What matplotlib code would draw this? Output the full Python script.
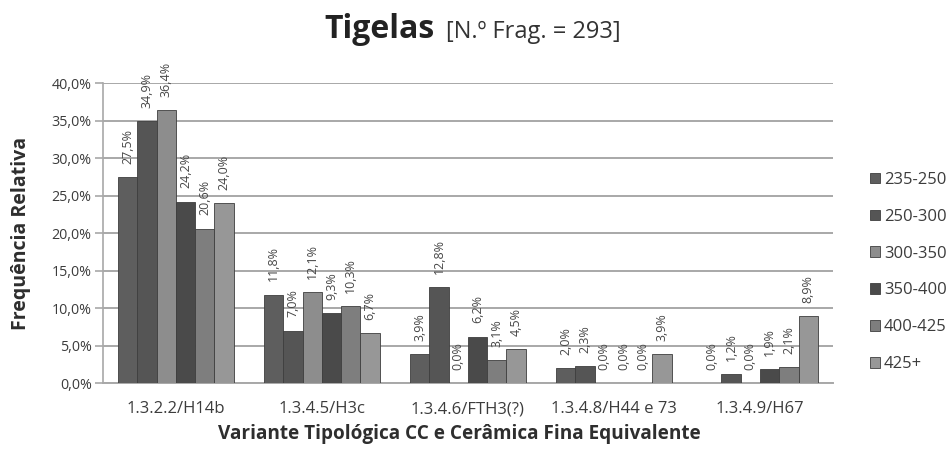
import numpy as np
import matplotlib
matplotlib.use("Agg")
import matplotlib.pyplot as plt
from matplotlib.ticker import FuncFormatter

plt.rcParams['font.family'] = ['Open Sans', 'DejaVu Sans']

# categories (typological variants) and the six diameter classes
categories = ['1.3.2.2/H14b', '1.3.4.5/H3c', '1.3.4.6/FTH3(?)', '1.3.4.8/H44 e 73', '1.3.4.9/H67']
series_names = ['235-250', '250-300', '300-350', '350-400', '400-425', '425+']

# relative frequency (%) per class, one list per series, in category order
s_235_250 = [27.5, 11.8, 3.9, 2.0, 0.0]
s_250_300 = [34.9, 7.0, 12.8, 2.3, 1.2]
s_300_350 = [36.4, 12.1, 0.0, 0.0, 0.0]
s_350_400 = [24.2, 9.3, 6.2, 0.0, 1.9]
s_400_425 = [20.6, 10.3, 3.1, 0.0, 2.1]
s_425_plus = [24.0, 6.7, 4.5, 3.9, 8.9]

series = [s_235_250, s_250_300, s_300_350, s_350_400, s_400_425, s_425_plus]
colors = ['#5e5e5e', '#555555', '#8d8d8d', '#4a4a4a', '#7e7e7e', '#979797']

fig = plt.figure(figsize=(9.52, 4.53), dpi=100)
ax = fig.add_axes([0.108, 0.1545, 0.767, 0.662])

x = np.arange(len(categories))
bw = 0.132
txt_col = '#3c3c3c'

for i, (vals, name, c) in enumerate(zip(series, series_names, colors)):
    pos = x + (i - 2.5) * bw
    ax.bar(pos, vals, width=bw, color=c, edgecolor='#3e3e3e', linewidth=0.6,
           label=name, zorder=3)
    for px, v in zip(pos, vals):
        ax.annotate(f'{v:.1f}%'.replace('.', ','), xy=(px, v),
                    xytext=(0, 9.5), textcoords='offset points',
                    rotation=90, ha='center', va='bottom',
                    fontsize=9, color='#474747', zorder=4)

ax.set_xlim(-0.5, len(categories) - 0.5)
ax.set_ylim(0, 40)
ax.set_yticks(np.arange(0, 41, 5))
ax.yaxis.set_major_formatter(FuncFormatter(lambda v, p: f'{v:.1f}%'.replace('.', ',')))
ax.set_xticks(x)
ax.set_xticklabels(categories)

ax.grid(axis='y', color='#a8a8a8', linewidth=1.4, zorder=0)
for side in ['top', 'right']:
    ax.spines[side].set_visible(False)
ax.spines['left'].set_color('#a8a8a8')
ax.spines['bottom'].set_color('#a8a8a8')
ax.spines['left'].set_linewidth(1.2)
ax.spines['bottom'].set_linewidth(1.4)
ax.tick_params(axis='y', length=6, width=1.2, color='#a8a8a8', labelsize=10.3,
               labelcolor=txt_col, pad=2)
ax.tick_params(axis='x', length=0, labelsize=12, labelcolor=txt_col, pad=13)

ax.set_ylabel('Frequência Relativa', fontsize=14, fontweight='bold', color='#2e2e2e', labelpad=15)
ax.set_xlabel('Variante Tipológica CC e Cerâmica Fina Equivalente', fontsize=13.7,
              fontweight='bold', color='#2e2e2e', labelpad=5)
ax.xaxis.label.set_x(0.488)

# title: bold name followed by sample size in a lighter weight
fig.text(0.457, 0.916, 'Tigelas', fontsize=23, fontweight='bold', color='#222222',
         ha='right', va='baseline')
fig.text(0.469, 0.916, '[N.º Frag. = 293]', fontsize=17, color='#333333',
         ha='left', va='baseline')

ax.legend(loc='center left', bbox_to_anchor=(1.03, 0.37), frameon=False,
          fontsize=12, labelspacing=1.25, handlelength=0.6, handleheight=0.6,
          handletextpad=0.25, labelcolor=txt_col)

fig.savefig('out.png', dpi=100)
